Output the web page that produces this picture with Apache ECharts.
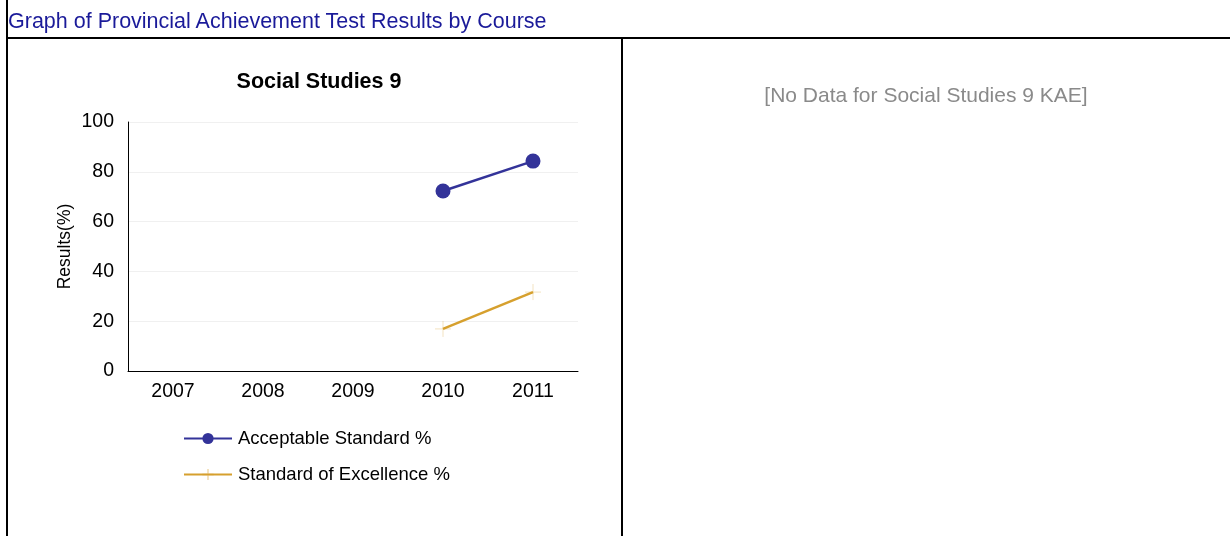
<!DOCTYPE html>
<html>
<head>
<meta charset="utf-8">
<script src="https://cdn.jsdelivr.net/npm/echarts@6/dist/echarts.min.js"></script>
<style>
  html, body { margin: 0; padding: 0; background: #fff; font-family: Arial, "Liberation Sans", sans-serif; }
  #page { position: relative; width: 1230px; height: 536px; overflow: hidden; }
  .hdr { position: absolute; left: 8px; top: 9px; font-size: 21.5px; line-height: 24px; color: #1a1a99; }
  .ln { position: absolute; background: #000; }
  #chart { position: absolute; left: 0; top: 0; width: 1230px; height: 536px; }
  .nodata { position: absolute; left: 622px; width: 608px; top: 82px; line-height: 26px; text-align: center; font-size: 21px; color: #8a8a8a; }
</style>
</head>
<body>
<div id="page">
  <div id="chart"></div>
  <div class="hdr">Graph of Provincial Achievement Test Results by Course</div>
  <div class="ln" style="left:6px;top:0;width:2px;height:536px"></div>
  <div class="ln" style="left:6px;top:37px;width:1224px;height:2px"></div>
  <div class="ln" style="left:621px;top:37px;width:2px;height:499px"></div>
  <div class="nodata">[No Data for Social Studies 9 KAE]</div>
</div>
<script>
var years = ['2007', '2008', '2009', '2010', '2011'];
var acceptable = [null, null, null, 72.3, 84.3];
var excellence = [null, null, null, 16.9, 31.7];
var yTicks = [0, 20, 40, 60, 80, 100];

var myChart = echarts.init(document.getElementById('chart'));
var option = {
    animation: false,
    title: {
        text: 'Social Studies 9',
        left: 314,
        top: 66,
        textAlign: 'center',
        textStyle: { fontFamily: 'Arial', fontSize: 21.5, fontWeight: 'bold', color: '#000' }
    },
    legend: {
        orient: 'vertical',
        left: 178,
        top: 424,
        itemWidth: 48,
        itemHeight: 14,
        itemGap: 17,
        textStyle: { fontFamily: 'Arial', fontSize: 18.5, color: '#000', padding: [0, 0, 0, 1] },
        data: ['Acceptable Standard %', 'Standard of Excellence %']
    },
    grid: { left: 128, right: 652, top: 122, bottom: 165 },
    xAxis: {
        type: 'category',
        data: years,
        boundaryGap: true,
        axisLine: { lineStyle: { color: '#000', width: 1 } },
        axisTick: { show: false },
        axisLabel: { fontFamily: 'Arial', fontSize: 19.5, color: '#000', margin: 11 }
    },
    yAxis: {
        type: 'value',
        min: yTicks[0],
        max: yTicks[yTicks.length - 1],
        interval: 20,
        name: 'Results(%)',
        nameLocation: 'middle',
        nameGap: 54,
        nameTextStyle: { fontFamily: 'Arial', fontSize: 17.5, color: '#000' },
        axisLine: { show: true, lineStyle: { color: '#000', width: 1 } },
        axisTick: { show: false },
        axisLabel: { fontFamily: 'Arial', fontSize: 19.5, color: '#000', margin: 14 },
        splitLine: { lineStyle: { color: '#f0f0f0' } }
    },
    series: [
        {
            name: 'Acceptable Standard %',
            type: 'line',
            data: acceptable,
            symbol: 'circle',
            symbolSize: 15,
            itemStyle: { color: '#333399' },
            lineStyle: { color: '#333399', width: 2.5 }
        },
        {
            name: 'Standard of Excellence %',
            type: 'line',
            data: excellence,
            symbol: 'path://M5,0L5,10M0,5L10,5',
            symbolSize: 16,
            itemStyle: { color: 'rgba(0,0,0,0)', borderColor: 'rgba(214,160,46,0.3)', borderWidth: 1 },
            lineStyle: { color: '#d6a02e', width: 2.5 }
        }
    ]
};
myChart.setOption(option);
</script>
</body>
</html>
